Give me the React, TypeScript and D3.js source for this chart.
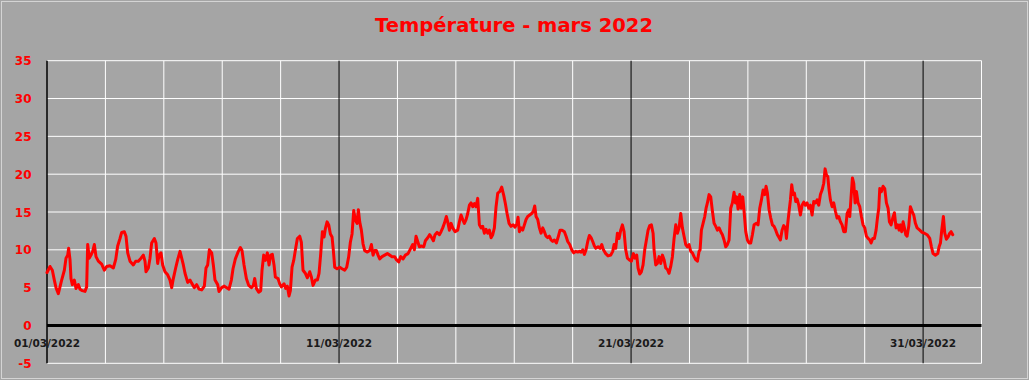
import React from "react";
import * as d3 from "d3";

// Day offsets from 01/03/2022 00:00 and temperatures (°C)
const days: number[] = [
  0, 0.103, 0.183, 0.251, 0.308, 0.388, 0.445, 0.502, 0.594, 0.651, 0.708, 0.742, 0.788, 0.822, 0.868, 0.936, 0.993,
  1.073, 1.13, 1.21, 1.3, 1.358, 1.393, 1.45, 1.507, 1.564, 1.621, 1.678, 1.758, 1.872, 1.963,
  2.043, 2.157, 2.272, 2.352, 2.42, 2.5, 2.557, 2.648, 2.705, 2.763, 2.842, 2.956,
  3.036, 3.128, 3.219, 3.299, 3.356, 3.39, 3.47, 3.527, 3.584, 3.676, 3.733, 3.79, 3.836, 3.904, 3.961,
  4.04, 4.132, 4.212, 4.27, 4.326, 4.406, 4.475, 4.555, 4.612, 4.669, 4.726, 4.817, 4.897, 4.954,
  5.046, 5.125, 5.205, 5.297, 5.388, 5.445, 5.502, 5.559, 5.639, 5.696, 5.753, 5.845, 5.89, 5.982,
  6.073, 6.153, 6.233, 6.313, 6.37, 6.45, 6.541, 6.621, 6.678, 6.747, 6.827, 6.907, 6.998,
  7.067, 7.112, 7.169, 7.249, 7.318, 7.363, 7.42, 7.478, 7.546, 7.603, 7.66, 7.717, 7.774, 7.82, 7.911, 7.968,
  8.025, 8.117, 8.174, 8.231, 8.288, 8.334, 8.391, 8.448, 8.516, 8.573, 8.653, 8.71, 8.767, 8.847, 8.916, 8.996,
  9.053, 9.11, 9.19, 9.258, 9.315, 9.373, 9.43, 9.487, 9.532, 9.59, 9.647, 9.704, 9.761, 9.806, 9.852, 9.932,
  10.023, 10.103, 10.194, 10.263, 10.331, 10.388, 10.446, 10.503, 10.56, 10.617, 10.662, 10.708, 10.765, 10.822, 10.879, 10.971,
  11.05, 11.108, 11.165, 11.222, 11.279, 11.336, 11.393, 11.473, 11.564, 11.655, 11.735, 11.815, 11.907, 11.964,
  12.044, 12.112, 12.192, 12.272, 12.363, 12.455, 12.523, 12.58, 12.637, 12.694, 12.751, 12.831, 12.9, 12.957,
  13.037, 13.105, 13.174, 13.231, 13.288, 13.356, 13.436, 13.493, 13.55, 13.608, 13.676, 13.722, 13.779, 13.836, 13.893, 13.973,
  14.064, 14.121, 14.178, 14.235, 14.292, 14.35, 14.407, 14.464, 14.521, 14.578, 14.635, 14.692, 14.749, 14.806, 14.863, 14.92, 14.977,
  15.034, 15.092, 15.149, 15.206, 15.263, 15.32, 15.377, 15.434, 15.503, 15.571, 15.64, 15.697, 15.754, 15.822, 15.891, 15.959,
  16.028, 16.096, 16.13, 16.176, 16.233, 16.29, 16.347, 16.404, 16.461, 16.53, 16.598, 16.655, 16.701, 16.747, 16.804, 16.861, 16.918, 16.975,
  17.032, 17.089, 17.146, 17.203, 17.26, 17.317, 17.375, 17.443, 17.512, 17.569, 17.637, 17.717, 17.774, 17.831, 17.9, 17.968,
  18.037, 18.105, 18.174, 18.231, 18.288, 18.345, 18.402, 18.459, 18.516, 18.573, 18.63, 18.687, 18.744, 18.79, 18.87, 18.938, 18.996,
  19.053, 19.133, 19.212, 19.304, 19.372, 19.418, 19.475, 19.532, 19.589, 19.646, 19.703, 19.76, 19.817, 19.875, 19.932,
  20.012, 20.08, 20.137, 20.194, 20.24, 20.297, 20.354, 20.411, 20.468, 20.525, 20.582, 20.639, 20.696, 20.754, 20.788, 20.845, 20.902, 20.959,
  21.016, 21.073, 21.13, 21.187, 21.244, 21.301, 21.359, 21.416, 21.473, 21.53, 21.587, 21.644, 21.701, 21.758, 21.815, 21.872, 21.929, 21.986,
  22.043, 22.1, 22.158, 22.215, 22.272, 22.329, 22.363, 22.409, 22.466, 22.523, 22.569, 22.614, 22.671, 22.728, 22.786, 22.843, 22.9, 22.957,
  23.014, 23.071, 23.128, 23.185, 23.242, 23.299, 23.356, 23.413, 23.47, 23.527, 23.573, 23.619, 23.664, 23.721, 23.767, 23.824, 23.87, 23.927, 23.984,
  24.041, 24.098, 24.155, 24.212, 24.292, 24.349, 24.406, 24.464, 24.521, 24.578, 24.623, 24.669, 24.726, 24.783, 24.84, 24.897, 24.954,
  25.011, 25.057, 25.114, 25.171, 25.228, 25.285, 25.32, 25.365, 25.411, 25.457, 25.502, 25.548, 25.594, 25.639, 25.685, 25.742, 25.799, 25.856, 25.913, 25.97,
  26.027, 26.084, 26.142, 26.199, 26.256, 26.313, 26.37, 26.427, 26.484, 26.541, 26.598, 26.644, 26.689, 26.735, 26.781, 26.826, 26.884, 26.941, 26.998,
  27.055, 27.112, 27.169, 27.226, 27.283, 27.34, 27.397, 27.454, 27.489, 27.534, 27.58, 27.626, 27.671, 27.717, 27.774, 27.831, 27.888, 27.945,
  28.002, 28.059, 28.116, 28.174, 28.219, 28.276, 28.333, 28.39, 28.436, 28.482, 28.516, 28.573, 28.63, 28.687, 28.744, 28.801, 28.847, 28.904, 28.961,
  29.018, 29.075, 29.132, 29.178, 29.224, 29.269, 29.315, 29.361, 29.406, 29.452, 29.509, 29.566, 29.623, 29.68, 29.737, 29.795, 29.886, 29.966,
  30.046, 30.137, 30.228, 30.285, 30.342, 30.422, 30.502, 30.548, 30.594, 30.639, 30.696, 30.742, 30.799, 30.856, 30.913, 30.959, 31.016,
];

const temps: number[] = [
  7.0, 7.8, 7.3, 6.0, 5.0, 4.2, 5.1, 6.0, 7.3, 8.9, 9.3, 10.2, 8.7, 6.2, 5.4, 6.0, 4.9,
  5.4, 4.8, 4.6, 4.5, 5.1, 10.7, 8.9, 9.3, 9.8, 10.7, 9.1, 8.5, 8.1, 7.3,
  7.8, 7.9, 7.6, 8.7, 10.5, 11.5, 12.3, 12.4, 11.8, 9.6, 8.5, 8.0,
  8.5, 8.5, 8.9, 9.3, 8.5, 7.1, 7.6, 8.9, 10.9, 11.5, 10.9, 8.2, 9.3, 9.6, 8.0,
  7.1, 6.7, 6.0, 5.0, 6.2, 7.6, 8.7, 9.8, 8.9, 8.0, 6.9, 5.7, 6.0, 5.6,
  5.0, 5.4, 4.8, 4.7, 5.2, 7.6, 8.0, 10.0, 9.6, 8.0, 6.0, 5.4, 4.5, 5.0,
  5.2, 5.0, 4.8, 6.0, 7.5, 8.8, 9.7, 10.3, 9.9, 8.0, 6.2, 5.3, 5.0,
  5.3, 6.2, 4.9, 4.4, 4.6, 7.3, 9.3, 8.6, 9.6, 8.0, 9.3, 9.4, 8.0, 6.4, 6.2, 5.5,
  5.1, 5.5, 4.9, 5.2, 3.9, 4.6, 7.7, 8.6, 10.2, 11.5, 11.8, 11.0, 7.3, 6.9, 6.3, 7.1,
  6.4, 5.3, 6.0, 6.0, 6.9, 9.5, 12.4, 11.7, 12.8, 13.7, 13.3, 12.1, 11.7, 9.9, 7.7, 7.5,
  7.7, 7.5, 7.3, 7.7, 9.1, 11.0, 12.1, 15.2, 13.9, 13.5, 15.3, 13.7, 12.6, 10.8, 9.9, 9.7,
  9.9, 10.7, 9.3, 9.9, 9.9, 9.3, 8.8, 9.1, 9.3, 9.5, 9.3, 9.1, 9.1, 8.7,
  8.4, 9.1, 8.8, 9.3, 9.5, 10.2, 10.7, 10.0, 11.8, 11.1, 10.4, 10.5, 10.4, 11.2,
  11.6, 12.0, 11.6, 11.2, 12.0, 12.3, 12.0, 12.4, 12.9, 13.5, 14.4, 13.7, 12.6, 13.5, 12.9, 12.4,
  12.6, 13.7, 14.6, 14.0, 13.5, 14.0, 14.8, 15.9, 16.2, 15.7, 16.1, 15.7, 16.8, 13.3, 12.9, 13.1, 12.2,
  12.7, 12.2, 12.6, 11.6, 12.0, 12.9, 15.7, 17.5, 17.7, 18.3, 17.2, 16.1, 14.8, 13.5, 13.1, 13.3,
  13.0, 13.5, 14.3, 12.4, 12.9, 12.6, 13.3, 14.0, 14.4, 14.6, 14.8, 15.1, 15.8, 14.4, 14.0, 12.9, 12.2, 12.9,
  12.4, 11.8, 11.6, 11.8, 11.3, 11.1, 11.3, 10.9, 11.8, 12.6, 12.6, 12.4, 11.8, 11.1, 10.7, 10.0,
  9.6, 9.8, 9.7, 9.8, 9.7, 10.0, 9.4, 10.0, 11.1, 11.9, 11.6, 11.1, 10.5, 10.2, 10.4, 10.2, 10.7,
  10.0, 9.5, 9.2, 9.3, 9.8, 10.7, 10.2, 12.2, 11.5, 12.6, 13.3, 12.4, 10.0, 8.9, 8.7,
  8.5, 9.5, 8.9, 9.3, 7.6, 6.8, 7.1, 8.0, 10.0, 11.3, 12.6, 13.2, 13.3, 12.2, 10.0, 8.0, 8.2, 9.1,
  8.2, 9.3, 8.7, 7.6, 7.4, 6.9, 7.8, 9.1, 11.5, 13.3, 12.2, 12.9, 14.8, 12.9, 11.8, 10.7, 10.4, 10.7,
  9.8, 9.6, 9.1, 8.7, 8.5, 9.8, 10.0, 12.6, 13.5, 14.4, 15.5, 16.2, 17.3, 17.0, 15.1, 13.5, 13.1, 12.6,
  12.9, 12.4, 12.0, 11.3, 10.4, 10.7, 11.3, 15.5, 16.2, 17.6, 16.2, 17.0, 15.4, 17.3, 15.5, 17.0, 15.1, 12.4, 11.3,
  10.9, 10.9, 12.0, 13.3, 13.5, 13.3, 15.5, 16.6, 17.9, 17.3, 18.4, 17.5, 15.3, 14.2, 13.3, 13.1, 12.6,
  12.0, 11.7, 11.3, 12.6, 13.2, 12.9, 11.5, 13.5, 15.1, 16.6, 18.6, 17.3, 17.5, 16.4, 16.7, 15.9, 14.6, 15.9, 16.3, 15.9,
  16.2, 15.5, 15.9, 14.6, 16.4, 16.2, 16.6, 15.9, 17.3, 17.9, 18.8, 20.7, 19.9, 19.7, 17.9, 16.6, 15.7, 16.2, 15.1,
  14.2, 14.4, 13.7, 13.3, 12.4, 12.4, 14.8, 15.3, 14.4, 17.0, 19.5, 18.8, 16.2, 17.7, 16.2, 15.7, 14.4, 13.3,
  12.9, 11.8, 11.5, 11.3, 10.9, 11.5, 11.5, 12.6, 14.2, 15.5, 18.1, 17.7, 18.4, 18.1, 16.2, 15.5, 13.7, 13.3, 14.2,
  14.9, 12.9, 13.3, 12.6, 13.3, 12.4, 13.7, 12.9, 12.0, 11.8, 13.1, 15.7, 15.1, 14.6, 13.5, 12.9, 12.6, 12.3,
  12.2, 12.0, 11.5, 10.4, 9.5, 9.3, 9.5, 10.4, 10.9, 12.6, 14.4, 12.2, 11.4, 11.7, 12.2, 12.4, 12.0,
];

const yTicks: number[] = [-5, 0, 5, 10, 15, 20, 25, 30, 35];
const gridDays: number[] = d3.range(0, 33, 2);
const labelDays: number[] = [0, 10, 20, 30];
const labelTexts: string[] = ["01/03/2022", "11/03/2022", "21/03/2022", "31/03/2022"];
const title = "Température - mars 2022";

export default function App() {
  const W = 1029;
  const H = 380;
  const x = d3.scaleLinear().domain([0, 32]).range([47, 981.5]);
  const y = d3.scaleLinear().domain([-5, 35]).range([363.3, 60.7]);
  const pts = days.map((d, i) => [d, temps[i]] as [number, number]);
  const line = d3
    .line<[number, number]>()
    .x((d) => x(d[0]))
    .y((d) => y(d[1]));
  const font = "'DejaVu Sans', Verdana, sans-serif";
  return (
    <div style={{ position: "fixed", left: 0, top: 0 }}>
      <svg width={W} height={H} style={{ display: "block" }}>
        <rect x={0} y={0} width={W} height={H} fill="#a5a5a5" />
        <rect x={1.5} y={1.5} width={W - 3} height={H - 3} fill="none" stroke="#d4d4d4" strokeWidth={1} />
        <text
          x={514}
          y={32}
          textAnchor="middle"
          fontFamily={font}
          fontWeight="bold"
          fontSize={20}
          fill="#ff0000"
          textLength={278}
          lengthAdjust="spacingAndGlyphs"
        >
          {title}
        </text>
        {/* horizontal gridlines */}
        {yTicks.map((t) => (
          <line key={"h" + t} x1={x(0)} x2={x(32)} y1={y(t)} y2={y(t)} stroke="#ffffff" strokeWidth={1} />
        ))}
        {/* vertical gridlines */}
        {gridDays.map((d) => (
          <line
            key={"v" + d}
            x1={x(d)}
            x2={x(d)}
            y1={y(35)}
            y2={y(-5)}
            stroke={d % 10 === 0 && d < 32 ? "#000000" : "#ffffff"}
            strokeWidth={d === 0 ? 1.5 : 1}
          />
        ))}
        {/* zero line */}
        <line x1={x(0)} x2={x(32)} y1={y(0)} y2={y(0)} stroke="#000000" strokeWidth={3} />
        {/* y labels */}
        {yTicks.map((t) => (
          <text
            key={"yl" + t}
            x={31.5}
            y={y(t) + 4.5}
            textAnchor="end"
            fontFamily={font}
            fontWeight="bold"
            fontSize={12}
            fill="#ff0000"
          >
            {t}
          </text>
        ))}
        {/* x labels */}
        {labelDays.map((d, i) => (
          <text
            key={"xl" + d}
            x={x(d)}
            y={347}
            textAnchor="middle"
            fontFamily={font}
            fontWeight="bold"
            fontSize={10.5}
            fill="#1a1a1a"
          >
            {labelTexts[i]}
          </text>
        ))}
        <path d={line(pts) || ""} fill="none" stroke="#ff0000" strokeWidth={3} strokeLinejoin="round" strokeLinecap="round" />
      </svg>
    </div>
  );
}
